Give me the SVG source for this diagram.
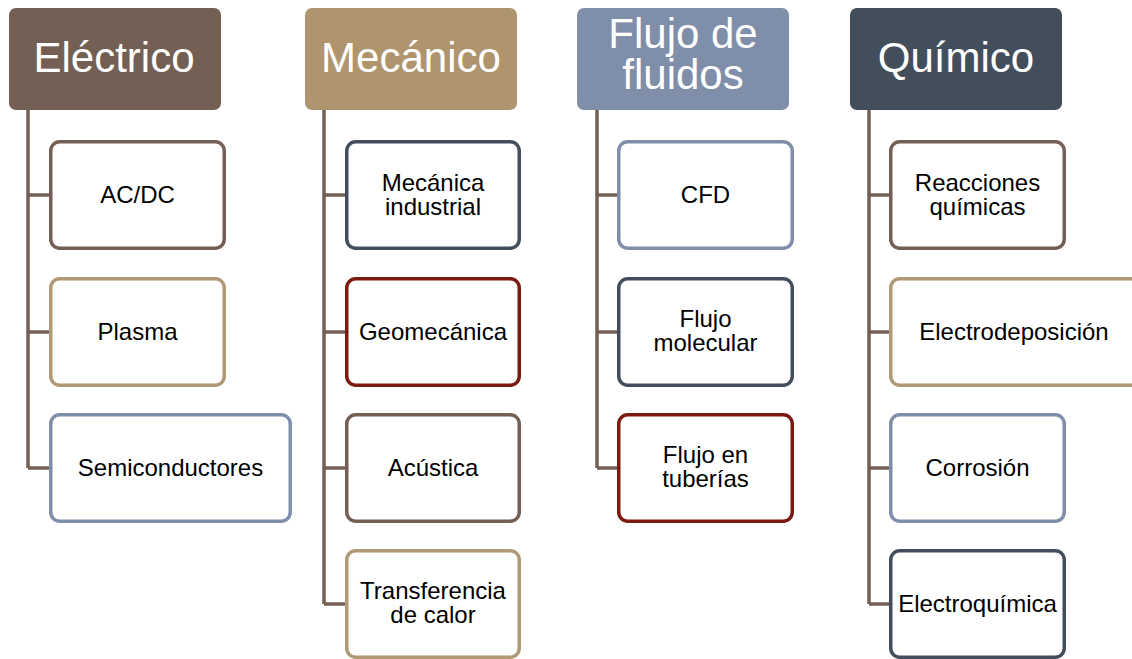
<svg xmlns="http://www.w3.org/2000/svg" width="1132" height="659" viewBox="0 0 1132 659">
<style>
.hd{stroke:none}
.h1{fill:#745F54}.h2{fill:#AE956E}.h3{fill:#7F8EA9}.h4{fill:#434E5D}
.ht{font-family:"Liberation Sans",Arial,sans-serif;font-size:42px;fill:#fff;text-anchor:middle}
.bx{fill:#fff;stroke-width:3.5}
.cb{stroke:#745F54}.ct{stroke:#B09A74}.cg{stroke:#7F8EA9}.cs{stroke:#434E5D}.cr{stroke:#7B1A0E}
.t{font-family:"Liberation Sans",Arial,sans-serif;font-size:24px;fill:#000;text-anchor:middle}
.ln{stroke:#745F54;stroke-width:3.5;fill:none}
</style>
<rect width="1132" height="659" fill="#fff"/>
<g id="connectors">
<path class="ln" d="M28 110V468M28 195H50M28 332H50M28 468H50"/>
<path class="ln" d="M324 110V604M324 195H346M324 332H346M324 468H346M324 604H346"/>
<path class="ln" d="M597 110V468M597 195H619M597 332H619M597 468H619"/>
<path class="ln" d="M869 110V604M869 195H891M869 332H891M869 468H891M869 604H891"/>
</g>
<g id="electrico"><rect class="hd h1" x="9" y="8" width="212" height="102" rx="7"/><text class="ht" x="114" y="72">Eléctrico</text></g>
<g id="mecanico"><rect class="hd h2" x="305" y="8" width="212" height="102" rx="7"/><text class="ht" x="411" y="72">Mecánico</text></g>
<g id="flujo"><rect class="hd h3" x="577" y="8" width="212" height="102" rx="7"/><text class="ht" x="683" y="48">Flujo de<tspan x="683" dy="41">fluidos</tspan></text></g>
<g id="quimico"><rect class="hd h4" x="850" y="8" width="212" height="102" rx="7"/><text class="ht" x="956" y="72">Químico</text></g>

<g id="acdc"><rect class="bx cb" x="50.75" y="141.75" width="173.5" height="106.5" rx="9"/><text class="t" x="137.5" y="203">AC/DC</text></g>
<g id="plasma"><rect class="bx ct" x="50.75" y="278.75" width="173.5" height="106.5" rx="9"/><text class="t" x="137.5" y="340">Plasma</text></g>
<g id="semi"><rect class="bx cg" x="50.75" y="414.75" width="239.5" height="106.5" rx="9"/><text class="t" x="170.5" y="476">Semiconductores</text></g>

<g id="mecind"><rect class="bx cs" x="346.75" y="141.75" width="172.5" height="106.5" rx="9"/><text class="t" x="433" y="191">Mecánica<tspan x="433" dy="24">industrial</tspan></text></g>
<g id="geomec"><rect class="bx cr" x="346.75" y="278.75" width="172.5" height="106.5" rx="9"/><text class="t" x="433" y="340">Geomecánica</text></g>
<g id="acustica"><rect class="bx cb" x="346.75" y="414.75" width="172.5" height="106.5" rx="9"/><text class="t" x="433" y="476">Acústica</text></g>
<g id="calor"><rect class="bx ct" x="346.75" y="550.75" width="172.5" height="106.5" rx="9"/><text class="t" x="433" y="599">Transferencia<tspan x="433" dy="24">de calor</tspan></text></g>

<g id="cfd"><rect class="bx cg" x="618.75" y="141.75" width="173.5" height="106.5" rx="9"/><text class="t" x="705.5" y="203">CFD</text></g>
<g id="molecular"><rect class="bx cs" x="618.75" y="278.75" width="173.5" height="106.5" rx="9"/><text class="t" x="705.5" y="327">Flujo<tspan x="705.5" dy="24">molecular</tspan></text></g>
<g id="tuberias"><rect class="bx cr" x="618.75" y="414.75" width="173.5" height="106.5" rx="9"/><text class="t" x="705.5" y="463">Flujo en<tspan x="705.5" dy="24">tuberías</tspan></text></g>

<g id="reacciones"><rect class="bx cb" x="890.75" y="141.75" width="173.5" height="106.5" rx="9"/><text class="t" x="977.5" y="191">Reacciones<tspan x="977.5" dy="24">químicas</tspan></text></g>
<g id="electrodep"><rect class="bx ct" x="890.75" y="278.75" width="250" height="106.5" rx="9"/><text class="t" x="1014" y="340">Electrodeposición</text></g>
<g id="corrosion"><rect class="bx cg" x="890.75" y="414.75" width="173.5" height="106.5" rx="9"/><text class="t" x="977.5" y="476">Corrosión</text></g>
<g id="electroq"><rect class="bx cs" x="890.75" y="550.75" width="173.5" height="106.5" rx="9"/><text class="t" x="977.5" y="612">Electroquímica</text></g>
</svg>
